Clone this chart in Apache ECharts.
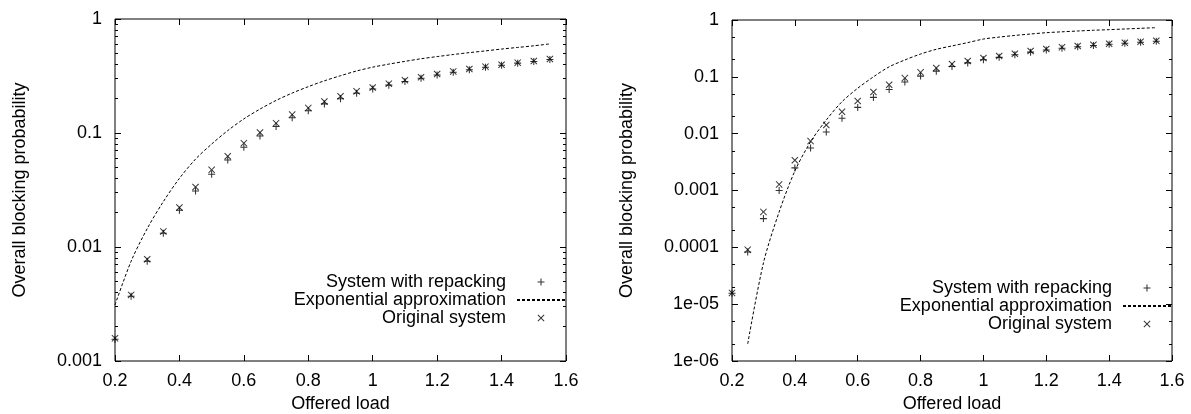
<!DOCTYPE html>
<html>
<head>
<meta charset="utf-8">
<script src="https://cdn.jsdelivr.net/npm/echarts@6/dist/echarts.min.js"></script>
<style>
  html, body { margin: 0; padding: 0; background: #fff; }
  #chart { width: 1191px; height: 414px; }
</style>
</head>
<body>
<div id="chart"></div>
<script>
// offered load, every 0.05
const loads = [0.2, 0.25, 0.3, 0.35, 0.4, 0.45, 0.5, 0.55, 0.6, 0.65, 0.7, 0.75, 0.8, 0.85,
  0.9, 0.95, 1.0, 1.05, 1.1, 1.15, 1.2, 1.25, 1.3, 1.35, 1.4, 1.45, 1.5, 1.55];
const loadsApproxRight = loads.slice(1);

// left panel
const leftRepack = [0.00155, 0.0037, 0.0075, 0.0132, 0.021, 0.031, 0.0435, 0.058, 0.075, 0.094,
  0.114, 0.136, 0.157, 0.18, 0.2, 0.223, 0.243, 0.263, 0.283, 0.302, 0.323, 0.341, 0.359, 0.377,
  0.393, 0.41, 0.424, 0.441];
const leftApprox = [0.0031, 0.0075, 0.0145, 0.025, 0.04, 0.059, 0.08, 0.105, 0.133, 0.162, 0.193,
  0.224, 0.255, 0.287, 0.318, 0.35, 0.378, 0.402, 0.425, 0.448, 0.468, 0.488, 0.507, 0.525, 0.545,
  0.563, 0.582, 0.605];
const leftOrig = [0.00158, 0.0038, 0.0078, 0.0137, 0.0222, 0.0336, 0.0475, 0.0625, 0.0815, 0.101,
  0.122, 0.145, 0.166, 0.189, 0.21, 0.232, 0.251, 0.271, 0.29, 0.308, 0.329, 0.347, 0.364, 0.382,
  0.397, 0.414, 0.428, 0.446];

// right panel
const rightRepack = [1.55e-5, 8.3e-5, 3.2e-4, 1.0e-3, 2.5e-3, 5.6e-3, 0.0107, 0.0186, 0.029, 0.0435,
  0.06, 0.081, 0.103, 0.126, 0.152, 0.176, 0.2, 0.22, 0.245, 0.272, 0.297, 0.318, 0.338, 0.357,
  0.374, 0.39, 0.407, 0.424];
const rightApprox = [2.0e-6, 5.3e-5, 4.2e-4, 2.2e-3, 7.2e-3, 0.0174, 0.0365, 0.063, 0.1, 0.15,
  0.198, 0.252, 0.305, 0.35, 0.4, 0.462, 0.5, 0.535, 0.567, 0.598, 0.62, 0.64, 0.66, 0.676, 0.695,
  0.714, 0.733];
const rightOrig = [1.58e-5, 9.1e-5, 4.2e-4, 1.28e-3, 3.4e-3, 7.4e-3, 0.0142, 0.0243, 0.0375, 0.054,
  0.0726, 0.095, 0.12, 0.143, 0.168, 0.19, 0.214, 0.232, 0.255, 0.285, 0.309, 0.33, 0.348, 0.367,
  0.383, 0.399, 0.415, 0.432];

// ticks
const leftYTicks = [0.001, 0.01, 0.1, 1];
const leftYLabels = ["0.001", "0.01", "0.1", "1"];
const rightYTicks = [1e-6, 1e-5, 1e-4, 0.001, 0.01, 0.1, 1];
const rightYLabels = ["1e-06", "1e-05", "0.0001", "0.001", "0.01", "0.1", "1"];
const names = ["System with repacking", "Exponential approximation", "Original system"];

function minorTicks(decades, steps) {
  const out = [];
  decades.slice(0, -1).forEach(d => steps.forEach(s => out.push(d * s)));
  return out;
}
const leftYMinor = minorTicks(leftYTicks, [2, 3, 4, 5, 6, 7, 8, 9]);
const rightYMinor = minorTicks(rightYTicks, [2, 5]);

const PLUS = "path://M4.25,0H5.75V4.25H10V5.75H5.75V10H4.25V5.75H0V4.25H4.25Z";
const CROSS = "path://M0,1L1,0L5,4L9,0L10,1L6,5L10,9L9,10L5,6L1,10L0,9L4,5Z";
const FONT = "Liberation Sans";
const txt = { color: "#000", fontSize: 18, fontFamily: FONT };

function zip(xs, ys) {
  return ys.map((y, i) => [xs[i], y]);
}

function labelFor(ticks, labels) {
  return v => {
    const i = ticks.findIndex(t => Math.abs(Math.log10(t) - Math.log10(v)) < 1e-6);
    return i >= 0 ? labels[i] : "";
  };
}

function xAxes(grid) {
  const base = {
    type: "value", gridIndex: grid, min: 0.2, max: 1.6, interval: 0.2,
    splitLine: { show: false }, axisLine: { show: false },
    axisTick: { inside: true, length: 6, lineStyle: { color: "#000", width: 1 } },
  };
  return [
    Object.assign({}, base, {
      position: "bottom",
      name: "Offered load", nameLocation: "middle", nameGap: 34, nameTextStyle: txt,
      axisLabel: Object.assign({ margin: 11 }, txt),
    }),
    Object.assign({}, base, { position: "top", axisLabel: { show: false } }),
  ];
}

function yAxes(grid, min, ticks, labels, minor, nameGap) {
  const base = {
    type: "log", gridIndex: grid, min: min, max: 1,
    splitLine: { show: false }, axisLine: { show: false }, axisLabel: { show: false },
  };
  const major = { inside: true, length: 6, customValues: ticks, lineStyle: { color: "#000", width: 1 } };
  const small = { inside: true, length: 3, customValues: minor, lineStyle: { color: "#000", width: 1 } };
  return [
    Object.assign({}, base, {
      position: "left", axisTick: major,
      name: "Overall blocking probability", nameLocation: "middle", nameGap: nameGap,
      nameTextStyle: txt,
      axisLabel: Object.assign({ show: true, margin: 13, customValues: ticks,
        formatter: labelFor(ticks, labels) }, txt),
    }),
    Object.assign({}, base, { position: "left", axisTick: small }),
    Object.assign({}, base, { position: "right", axisTick: major }),
    Object.assign({}, base, { position: "right", axisTick: small }),
  ];
}

function panelSeries(grid, repack, approxX, approx, orig) {
  const ax = grid * 2, ay = grid * 4;
  return [
    {
      name: names[0], type: "scatter", xAxisIndex: ax, yAxisIndex: ay,
      symbol: PLUS, symbolSize: 7, symbolKeepAspect: true,
      itemStyle: { color: "#000" }, data: zip(loads, repack),
    },
    {
      name: names[1], type: "line", xAxisIndex: ax, yAxisIndex: ay,
      symbol: "none", smooth: 0.3,
      lineStyle: { color: "#000", width: 1, type: [3, 2] },
      itemStyle: { color: "#000" }, data: zip(approxX, approx),
    },
    {
      name: names[2], type: "scatter", xAxisIndex: ax, yAxisIndex: ay,
      symbol: CROSS, symbolSize: 7, symbolKeepAspect: true,
      itemStyle: { color: "#000" }, data: zip(loads, orig),
    },
  ];
}

function legendAt(right, top) {
  return {
    orient: "vertical", align: "right", right: right, top: top, padding: 0,
    itemWidth: 48, itemHeight: 7, itemGap: 0, selectedMode: false,
    textStyle: Object.assign({ lineHeight: 18, width: 240, align: "right", padding: [0, 6, 0, 0] }, txt),
    data: [
      names[0],
      { name: names[1], itemStyle: { opacity: 0 } },
      names[2],
    ],
  };
}

const chart = echarts.init(document.getElementById("chart"));
const option = {
  animation: false,
  backgroundColor: "#fff",
  grid: [
    { left: 115, right: 625, top: 19, bottom: 53, show: true, borderColor: "#000", borderWidth: 1,
      outerBoundsMode: "none" },
    { left: 732, right: 19, top: 20, bottom: 53, show: true, borderColor: "#000", borderWidth: 1,
      outerBoundsMode: "none" },
  ],
  legend: [legendAt(625, 273), legendAt(19, 279)],
  xAxis: xAxes(0).concat(xAxes(1)),
  yAxis: yAxes(0, 0.001, leftYTicks, leftYLabels, leftYMinor, 86)
    .concat(yAxes(1, 1e-6, rightYTicks, rightYLabels, rightYMinor, 96)),
  series: panelSeries(0, leftRepack, loads, leftApprox, leftOrig)
    .concat(panelSeries(1, rightRepack, loadsApproxRight, rightApprox, rightOrig)),
};
chart.setOption(option);
window.addEventListener("resize", chart.resize);
</script>
</body>
</html>
